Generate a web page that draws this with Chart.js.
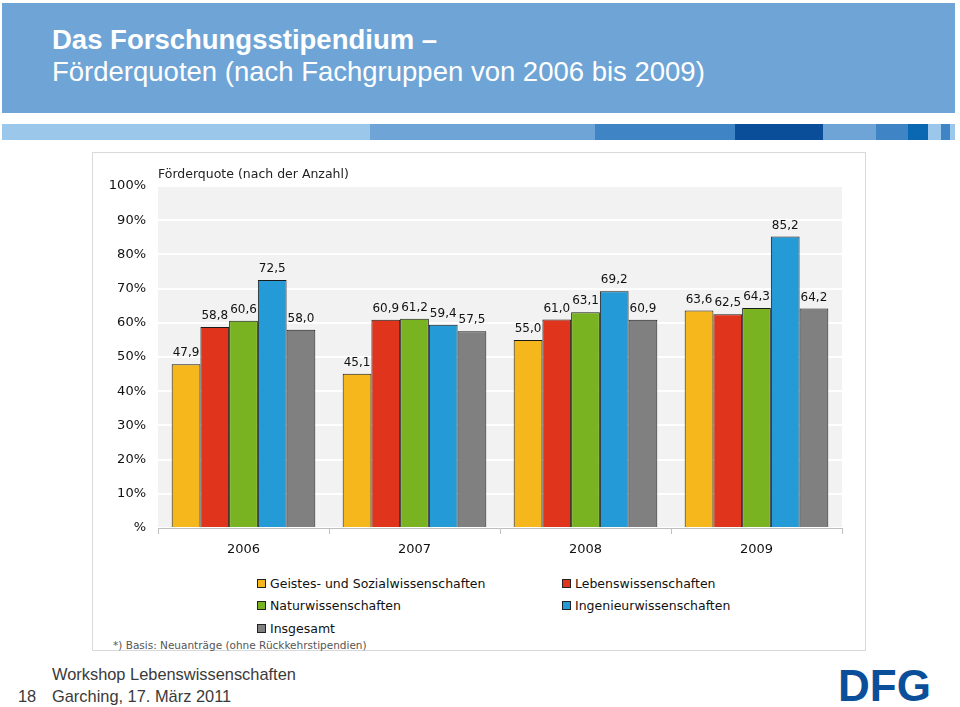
<!DOCTYPE html>
<html lang="de">
<head>
<meta charset="utf-8">
<title>Das Forschungsstipendium</title>
<script src="https://cdn.jsdelivr.net/npm/chart.js@4/dist/chart.umd.min.js"></script>
<style>
  html, body { margin: 0; padding: 0; }
  body { width: 960px; height: 707px; position: relative; background: #fff; overflow: hidden; font-family: "Liberation Sans", Arial, sans-serif; }
  .banner { position: absolute; left: 2px; top: 3px; width: 953px; height: 110px; background: #6ea5d6; }
  .banner h1 { position: absolute; left: 50px; top: 21px; margin: 0; color: #fff; font-size: 27.5px; line-height: 32px; font-weight: bold; }
  .banner h2 { position: absolute; left: 50px; top: 53px; margin: 0; color: #fff; font-size: 27.5px; line-height: 32px; font-weight: normal; }
  .stripe { position: absolute; top: 124px; height: 16px; }
  .panel { position: absolute; left: 92px; top: 152px; width: 772px; height: 497px; border: 1px solid #d9d9d9; }
  .chart-box { position: absolute; left: 93px; top: 153px; width: 772px; height: 410px; }
  .chart-title { position: absolute; left: 158px; top: 166px; font-family: "DejaVu Sans", Verdana, sans-serif; font-size: 12.5px; color: #222; }
  .legend { position: absolute; left: 257px; top: 572px; display: grid; grid-template-columns: 305px auto; grid-auto-rows: 22.5px; font-family: "DejaVu Sans", Verdana, sans-serif; font-size: 12.5px; color: #111; }
  .legend div { display: flex; align-items: center; }
  .legend span { display: inline-block; width: 7px; height: 7px; border: 1px solid #222; margin-right: 4px; }
  .note { position: absolute; left: 113px; top: 639px; font-family: "DejaVu Sans", Verdana, sans-serif; font-size: 10.5px; color: #555; }
  .footer { position: absolute; font-size: 16.4px; color: #3a3a3a; }
  .logo { position: absolute; left: 838px; top: 661px; font-size: 44px; font-weight: bold; color: #0b4f9b; }
</style>
</head>
<body>
<div class="banner">
  <h1>Das Forschungsstipendium –</h1>
  <h2>Förderquoten (nach Fachgruppen von 2006 bis 2009)</h2>
</div>
<div id="stripes"></div>
<div class="panel"></div>
<div class="chart-box"><canvas id="quoteChart" width="772" height="410"></canvas></div>
<div class="chart-title">Förderquote (nach der Anzahl)</div>
<div class="legend" id="legend"></div>
<div class="note">*) Basis: Neuanträge (ohne Rückkehrstipendien)</div>
<div class="footer" style="left:18px; top:687px;">18</div>
<div class="footer" style="left:52px; top:665px;">Workshop Lebenswissenschaften</div>
<div class="footer" style="left:52px; top:687px;">Garching, 17. März 2011</div>
<div class="logo">DFG</div>

<script>
const years = ["2006", "2007", "2008", "2009"];
const geistes = [47.9, 45.1, 55.0, 63.6];
const leben = [58.8, 60.9, 61.0, 62.5];
const natur = [60.6, 61.2, 63.1, 64.3];
const ingenieur = [72.5, 59.4, 69.2, 85.2];
const insgesamt = [58.0, 57.5, 60.9, 64.2];
const yTicks = [0, 10, 20, 30, 40, 50, 60, 70, 80, 90, 100];

const seriesNames = [
  "Geistes- und Sozialwissenschaften",
  "Lebenswissenschaften",
  "Naturwissenschaften",
  "Ingenieurwissenschaften",
  "Insgesamt"
];
const seriesColors = ["#f5b71b", "#e1341d", "#7ab322", "#249bd6", "#808080"];

// decorative stripe under the banner
const stripeParts = [
  [2, 370, "#9bc8ea"], [370, 595, "#6ea5d6"], [595, 735, "#3f84c5"], [735, 823, "#0a4e99"],
  [823, 876, "#6ea5d6"], [876, 908, "#3f84c5"], [908, 928, "#0a67b1"], [928, 941, "#9bc8ea"],
  [941, 950, "#3f84c5"], [950, 955, "#9bc8ea"]
];
document.getElementById("stripes").innerHTML = stripeParts.map(p =>
  `<div class="stripe" style="left:${p[0]}px;width:${p[1] - p[0]}px;background:${p[2]}"></div>`
).join("");

document.getElementById("legend").innerHTML = seriesNames.map((name, i) =>
  `<div><span style="background:${seriesColors[i]}"></span>${name}</div>`
).join("");

function formatValue(v) {
  return v.toFixed(1).replace(".", ",");
}

const plotBackground = {
  id: "plotBackground",
  beforeDraw(chart) {
    const { ctx, chartArea } = chart;
    ctx.save();
    ctx.fillStyle = "#f2f2f2";
    ctx.fillRect(chartArea.left, chartArea.top, chartArea.right - chartArea.left, chartArea.bottom - chartArea.top);
    ctx.restore();
  }
};

const valueLabels = {
  id: "valueLabels",
  afterDatasetsDraw(chart) {
    const ctx = chart.ctx;
    ctx.save();
    ctx.font = "12px 'DejaVu Sans', Verdana, sans-serif";
    ctx.fillStyle = "#111";
    ctx.textAlign = "center";
    ctx.textBaseline = "middle";
    chart.data.datasets.forEach((ds, i) => {
      chart.getDatasetMeta(i).data.forEach((bar, j) => {
        ctx.fillText(formatValue(ds.data[j]), bar.x, bar.y - 11);
      });
    });
    ctx.restore();
  }
};

const allSeries = [geistes, leben, natur, ingenieur, insgesamt];

new Chart(document.getElementById("quoteChart"), {
  type: "bar",
  data: {
    labels: years,
    datasets: allSeries.map((values, i) => ({
      label: seriesNames[i],
      data: values,
      backgroundColor: seriesColors[i],
      borderColor: "#1a1a1a",
      borderWidth: 1,
      barPercentage: 1,
      categoryPercentage: 0.84
    }))
  },
  options: {
    responsive: false,
    animation: false,
    layout: { padding: { top: 33, right: 23, left: 0, bottom: 0 } },
    plugins: {
      legend: { display: false },
      tooltip: { enabled: false }
    },
    scales: {
      x: {
        grid: { drawOnChartArea: false, drawTicks: true, tickLength: 6, color: "#bfbfbf" },
        border: { color: "#bfbfbf" },
        ticks: {
          padding: 8,
          color: "#111",
          font: { family: "'DejaVu Sans', Verdana, sans-serif", size: 13 }
        },
        afterFit: scale => { scale.height = 35; }
      },
      y: {
        min: 0,
        max: 100,
        afterBuildTicks: scale => { scale.ticks = yTicks.map(v => ({ value: v })); },
        grid: { color: "#ffffff", lineWidth: 2, drawTicks: false },
        border: { display: false },
        ticks: {
          padding: 12,
          color: "#111",
          font: { family: "'DejaVu Sans', Verdana, sans-serif", size: 13 },
          callback: v => v === 0 ? "%" : v + "%"
        },
        afterFit: scale => { scale.width = 65; }
      }
    }
  },
  plugins: [plotBackground, valueLabels]
});
</script>
</body>
</html>
